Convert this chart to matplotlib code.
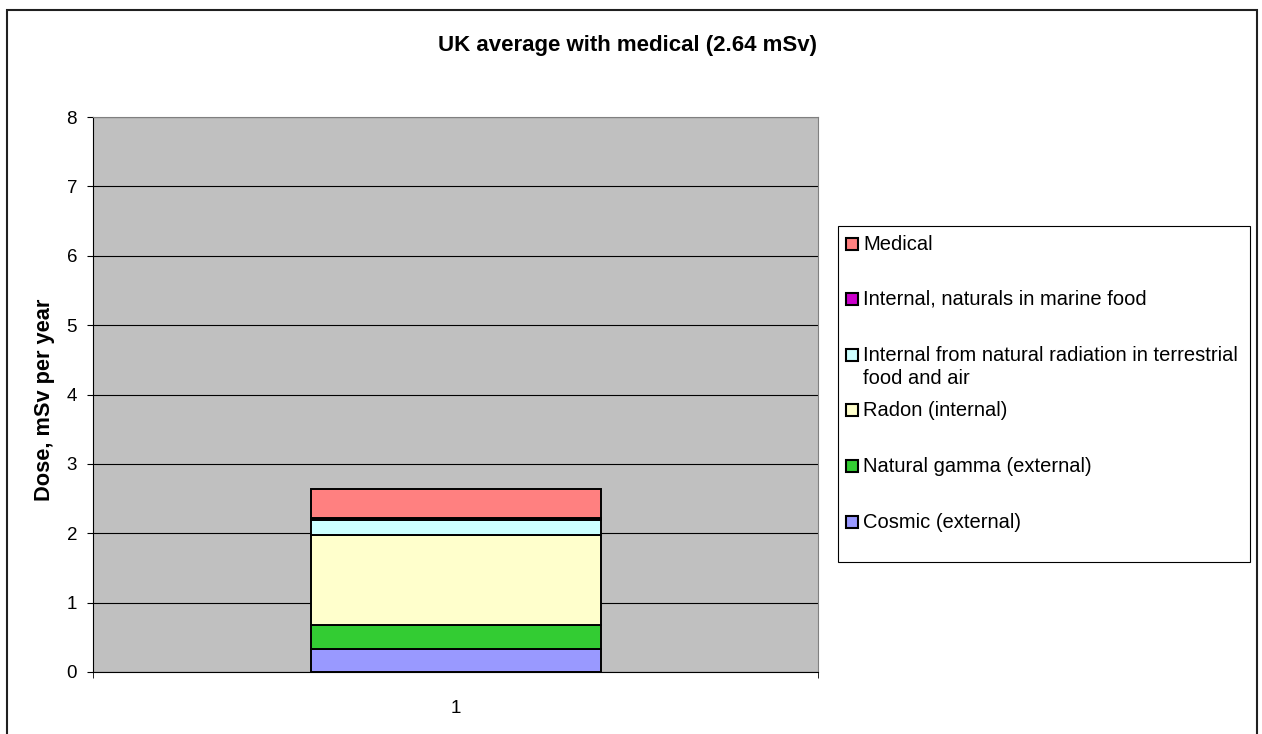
import matplotlib.pyplot as plt
from matplotlib.patches import Rectangle

plt.rcParams['font.family'] = ['Liberation Sans', 'DejaVu Sans']

# UK average annual dose by source, mSv (bottom to top of stack)
sources = ['Cosmic (external)',
           'Natural gamma (external)',
           'Radon (internal)',
           'Internal from natural radiation in terrestrial\nfood and air',
           'Internal, naturals in marine food',
           'Medical']
doses = [0.33, 0.35, 1.30, 0.21, 0.03, 0.42]
colors = ['#9999FF', '#33CC33', '#FFFFCC', '#CCFFFF', '#CC00CC', '#FF8080']
categories = ['1']

W, H = 1262, 734
fig = plt.figure(figsize=(W / 100, H / 100), dpi=100)

# outer chart border (runs off the bottom edge)
fig.patches.append(Rectangle((7 / W, -10 / H), 1250 / W, (H - 10 + 10) / H,
                             transform=fig.transFigure, fill=False,
                             edgecolor='#202020', linewidth=1.5))

ax = fig.add_axes([93 / W, 62 / H, 725 / W, 555 / H])
ax.set_facecolor('#C0C0C0')

bottom = 0.0
for name, d, c in zip(sources, doses, colors):
    ax.bar(1, d, width=0.4, bottom=bottom, color=c, edgecolor='black', linewidth=1.4,
           zorder=3, label=name)
    bottom += d

ax.set_xlim(0.5, 1.5)
ax.set_ylim(0, 8)
ax.set_yticks(range(0, 9))
ax.yaxis.grid(True, color='black', linewidth=0.8, zorder=1)
ax.set_axisbelow(True)
ax.set_xticks([1])
ax.set_xticklabels(categories)
ax.set_xticks([0.5, 1.5], minor=True)
ax.tick_params(axis='x', which='major', length=0, pad=20, labelsize=13.5)
ax.tick_params(axis='x', which='minor', length=4.5, direction='out')
ax.tick_params(axis='y', length=4.5, direction='out', labelsize=13.5, pad=7)
for s in ['top', 'right']:
    ax.spines[s].set_color('#808080')
for s in ['left', 'bottom']:
    ax.spines[s].set_color('black')

ax.set_ylabel('Dose, mSv per year', fontsize=15.7, fontweight='bold')
ax.yaxis.set_label_coords(-(93 - 55) / 725, 0.49)
fig.text(628 / W, 1 - 46 / H, 'UK average with medical (2.64 mSv)', ha='center', va='center',
         fontsize=16, fontweight='bold')

# legend box, top entry first
fig.patches.append(Rectangle((838 / W, 1 - 562 / H), 412 / W, 336 / H, transform=fig.transFigure,
                             fill=False, edgecolor='black', linewidth=0.8))
slot_y = [522, 466, 410, 355, 299, 244]
for name, c, y in zip(sources, colors, slot_y):
    fig.patches.append(Rectangle((846 / W, 1 - (y + 6) / H), 12 / W, 12 / H,
                                 transform=fig.transFigure, facecolor=c,
                                 edgecolor='black', linewidth=1.5))
    fig.text(863 / W, 1 - (y - 9) / H, name, ha='left', va='top', fontsize=14.5,
             linespacing=1.25)

fig.savefig('out.png', dpi=100)
